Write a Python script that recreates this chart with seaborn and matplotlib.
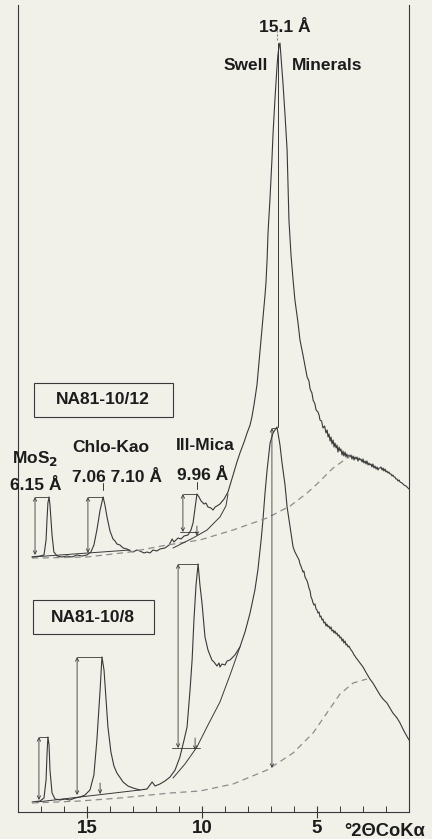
import matplotlib
matplotlib.use("Agg")
import matplotlib.pyplot as plt
import seaborn as sns
import pandas as pd
from matplotlib.patches import Rectangle

# °2θ CoKα (x) and relative intensity (y)
top_theta = [17.39, 17.04, 16.87, 16.78, 16.74, 16.70, 16.65, 16.61, 16.57, 16.52, 16.44, 16.30,
             16.09, 15.87, 15.65, 15.44, 15.22, 15.00, 14.83, 14.70, 14.57, 14.43, 14.30, 14.22,
             14.13, 14.00, 13.87, 13.78, 13.70, 13.57, 13.43, 13.26, 13.13, 13.00, 12.83, 12.70,
             12.52, 12.39, 12.26, 12.13, 11.96, 11.83, 11.61, 11.43, 11.30, 11.22, 11.13, 11.04,
             10.91, 10.78, 10.61, 10.48, 10.39, 10.30, 10.22, 10.13, 10.04, 9.91, 9.83, 9.74,
             9.61, 9.52, 9.43, 9.35, 9.22, 9.04, 8.87, 8.74, 8.65, 8.48, 8.35, 8.17, 8.04, 7.91,
             7.83, 7.74, 7.61, 7.48, 7.35, 7.26, 7.22, 7.17, 7.13, 7.04, 6.96, 6.91, 6.83, 6.74,
             6.70, 6.65, 6.61, 6.57, 6.48, 6.39, 6.30, 6.22, 6.13, 6.04, 5.96, 5.83, 5.74, 5.61,
             5.52, 5.43, 5.35, 5.30, 5.22, 5.17, 5.09, 5.04, 4.96, 4.91, 4.87, 4.80, 4.74, 4.67,
             4.61, 4.56, 4.52, 4.48, 4.43, 4.39, 4.35, 4.30, 4.26, 4.22, 4.17, 4.13, 4.09, 4.04,
             4.00, 3.96, 3.91, 3.87, 3.83, 3.78, 3.74, 3.70, 3.65, 3.61, 3.57, 3.52, 3.48, 3.43,
             3.39, 3.35, 3.30, 3.26, 3.22, 3.17, 3.13, 3.09, 3.04, 3.00, 2.96, 2.91, 2.87, 2.83,
             2.78, 2.74, 2.70, 2.65, 2.61, 2.57, 2.52, 2.48, 2.43, 2.39, 2.35, 2.30, 2.26, 2.22,
             2.17, 2.13, 2.09, 2.04, 2.00, 1.96, 1.91, 1.87, 1.83, 1.78, 1.74, 1.70, 1.65, 1.61,
             1.57, 1.52, 1.48, 1.43, 1.39, 1.30, 1.22, 1.13, 1.00]
top_int = [255, 256, 257, 272, 292, 309, 315, 307, 294, 277, 260, 256,
           255, 256, 255, 257, 256, 257, 260, 267, 282, 302, 315, 307,
           295, 281, 273, 271, 268, 267, 264, 263, 261, 260, 262, 261,
           259, 260, 259, 262, 261, 263, 264, 267, 273, 270, 272, 274,
           273, 276, 277, 282, 289, 304, 318, 315, 311, 308, 309, 305,
           304, 302, 305, 306, 308, 313, 320, 330, 337, 350, 359, 370, 379, 387,
           395, 407, 427, 460, 494, 517, 529, 552, 579, 615, 652, 679, 712, 745,
           757, 766, 769, 757, 729, 697, 662, 592, 557, 532, 512, 490, 472, 457,
           446, 435, 431, 423, 419, 412, 408, 402, 400, 397, 392, 391, 384, 386,
           379, 382, 375, 378, 371, 375, 368, 372, 365, 369, 364, 367, 360, 365,
           361, 363, 357, 361, 356, 360, 355, 358, 354, 357, 355, 357, 353, 356,
           352, 355, 353, 355, 351, 354, 352, 353, 350, 353, 349, 351, 348, 351,
           347, 349, 347, 348, 345, 348, 344, 346, 343, 345, 342, 344, 344, 345,
           342, 344, 341, 343, 340, 341, 339, 340, 338, 338, 336, 337, 335, 335,
           333, 333, 331, 332, 330, 329, 327, 326, 323]

bot_theta = [17.39, 17.04, 16.87, 16.78, 16.74, 16.70, 16.65, 16.61, 16.52, 16.39, 16.17, 15.96,
             15.74, 15.52, 15.30, 15.09, 14.87, 14.70, 14.57, 14.43, 14.35, 14.26, 14.17, 14.09,
             13.96, 13.83, 13.70, 13.43, 13.22, 13.00, 12.70, 12.39, 12.17, 12.04, 11.83, 11.61,
             11.39, 11.17, 10.96, 10.78, 10.65, 10.52, 10.43, 10.35, 10.26, 10.17, 10.09, 10.00,
             9.87, 9.74, 9.57, 9.48, 9.35, 9.26, 9.22, 9.13, 9.00, 8.91, 8.78, 8.57, 8.35, 8.13,
             7.91, 7.70, 7.57, 7.43, 7.35, 7.26, 7.17, 7.04, 6.91, 6.83, 6.74, 6.61, 6.52, 6.39,
             6.30, 6.17, 6.04, 5.96, 5.87, 5.78, 5.74, 5.70, 5.61, 5.57, 5.52, 5.43, 5.39, 5.35,
             5.30, 5.26, 5.22, 5.17, 5.13, 5.09, 5.04, 5.00, 4.96, 4.91, 4.87, 4.83, 4.78, 4.74,
             4.70, 4.65, 4.61, 4.57, 4.52, 4.48, 4.43, 4.39, 4.35, 4.30, 4.26, 4.22, 4.17, 4.13,
             4.09, 4.04, 4.00, 3.96, 3.91, 3.87, 3.83, 3.78, 3.74, 3.70, 3.65, 3.61, 3.57, 3.52,
             3.48, 3.43, 3.39, 3.35, 3.30, 3.26, 3.13, 3.00, 2.83, 2.70, 2.57, 2.39, 2.26, 2.13,
             1.96, 1.83, 1.70, 1.52, 1.39, 1.22, 1.00]
bot_int = [10, 11, 14, 32, 57, 75, 67, 42, 19, 13, 12, 13,
           12, 14, 15, 17, 22, 37, 72, 122, 155, 142, 112, 85,
           60, 46, 39, 30, 26, 24, 22, 23, 30, 26, 28, 31,
           35, 42, 55, 72, 85, 122, 152, 192, 227, 248, 227, 209,
           175, 162, 152, 150, 146, 149, 145, 148, 147, 151, 152, 157, 165, 180,
           199, 222, 242, 272, 292, 319, 342, 369, 379, 382, 385, 367, 349, 327,
           305, 285, 265, 260, 256, 252, 248, 246, 240, 241, 235, 231, 228, 224,
           221, 215, 213, 209, 207, 208, 203, 202, 199, 200, 195, 196, 192, 193,
           189, 190, 186, 188, 185, 186, 183, 185, 181, 182, 179, 181, 178, 179,
           176, 177, 174, 175, 171, 173, 169, 171, 167, 168, 165, 166, 164, 162,
           161, 159, 157, 156, 154, 153, 149, 145, 138, 133, 129, 122, 117, 113,
           109, 104, 99, 94, 89, 81, 72]

# dashed background curves
top_bg_theta = [17.39, 17.04, 15.00, 13.13, 11.52, 10.09, 8.65, 7.17, 6.17, 5.43, 5.00, 4.30, 3.57]
top_bg_int = [254, 254, 255, 260, 267, 272, 282, 294, 306, 319, 328, 344, 356]
bot_bg_theta = [17.39, 15.30, 13.57, 11.39, 10.09, 8.65, 7.17, 6.04, 5.17, 4.57, 4.00, 3.43, 2.83]
bot_bg_int = [9, 11, 14, 19, 21, 28, 42, 59, 79, 99, 118, 129, 133]

# solid tangent / background lines under the peaks
top_tan_theta = [17.39, 13.13]
top_tan_int = [255, 262]
bot_tan_theta = [17.17, 12.70]
bot_tan_int = [10, 22]
top_mica_bg_theta = [11.26, 10.39, 9.78, 9.22, 8.96, 8.87]
top_mica_bg_int = [264, 274, 282, 295, 306, 318]
bot_mica_bg_theta = [11.26, 10.74, 10.22, 9.74, 9.22, 8.78, 8.35]
bot_mica_bg_int = [34, 48, 65, 87, 110, 137, 165]

# peak-height measurements: arrow position, peak position, top and base intensity
top_arrow_x = [17.26, 14.96, 10.83]
top_peak_x = [16.65, 14.30, 10.22]
top_peak_top = [315, 315, 318]
top_peak_base = [257, 259, 280]
bot_arrow_x = [17.09, 15.43, 11.04, 6.96]
bot_peak_x = [16.70, 14.35, 10.17, 6.74]
bot_peak_top = [75, 155, 248, 384]
bot_peak_base = [12, 17, 64, 44]

swell_theta = 6.70
swell_top = 769

LINE = "#383838"
DASH = "#8c8c8c"
TXT = "#1c1c1c"
BG = "#f1f1ea"

sns.set_style("ticks")
plt.rcParams["font.family"] = ["Liberation Sans", "DejaVu Sans"]
plt.rcParams["font.weight"] = "bold"
plt.rcParams["mathtext.default"] = "bf"

fig = plt.figure(figsize=(4.32, 8.39), dpi=100, facecolor=BG)
ax = fig.add_axes([18 / 432, 27 / 839, 391 / 432, 807 / 839])
ax.set_facecolor(BG)

top = pd.DataFrame({"theta": top_theta, "counts": top_int})
bot = pd.DataFrame({"theta": bot_theta, "counts": bot_int})
for df in (top, bot):
    sns.lineplot(data=df, x="theta", y="counts", ax=ax, sort=False, estimator=None,
                 color=LINE, lw=0.8)

for xs, ys in [(top_bg_theta, top_bg_int), (bot_bg_theta, bot_bg_int)]:
    sns.lineplot(x=xs, y=ys, ax=ax, sort=False, estimator=None, color=DASH, lw=0.9,
                 linestyle=(0, (5, 3.5)))

for xs, ys in [(top_tan_theta, top_tan_int), (bot_tan_theta, bot_tan_int),
               (top_mica_bg_theta, top_mica_bg_int), (bot_mica_bg_theta, bot_mica_bg_int)]:
    sns.lineplot(x=xs, y=ys, ax=ax, sort=False, estimator=None, color=LINE, lw=0.7)

arrow_kw = dict(arrowstyle="<->", lw=0.6, color=LINE, mutation_scale=6, shrinkA=0, shrinkB=0)
down_kw = dict(arrowstyle="->", lw=0.6, color=LINE, mutation_scale=6, shrinkA=0, shrinkB=0)


def measure(xa, xp, hi, lo):
    ax.annotate("", xy=(xa, lo), xytext=(xa, hi), arrowprops=arrow_kw)
    ax.plot([xa, xp], [hi, hi], color=LINE, lw=0.6)


for xa, xp, hi, lo in zip(top_arrow_x, top_peak_x, top_peak_top, top_peak_base):
    measure(xa, xp, hi, lo)
for xa, xp, hi, lo in zip(bot_arrow_x, bot_peak_x, bot_peak_top, bot_peak_base):
    measure(xa, xp, hi, lo)

# base lines and small arrows under the mica / kaolinite peaks
ax.plot([top_arrow_x[2] + 0.13, top_peak_x[2]], [top_peak_base[2]] * 2, color=LINE, lw=0.6)
ax.annotate("", xy=(top_peak_x[2], top_peak_base[2] - 4), xytext=(top_peak_x[2], top_peak_base[2] + 6),
            arrowprops=down_kw)
ax.plot([bot_arrow_x[2] + 0.26, bot_peak_x[2] - 0.09], [bot_peak_base[2]] * 2, color=LINE, lw=0.6)
ax.annotate("", xy=(10.30, bot_peak_base[2] - 2), xytext=(10.30, bot_peak_base[2] + 10),
            arrowprops=down_kw)
ax.annotate("", xy=(14.43, bot_peak_base[1] + 1), xytext=(14.43, bot_peak_base[1] + 12),
            arrowprops=down_kw)

# line dropping from the swelling-mineral peak of the upper trace
ax.plot([swell_theta, swell_theta], [swell_top, bot_peak_top[3] + 1], color=LINE, lw=0.7)
ax.plot([swell_theta + 0.05] * 2, [772, 784], color=DASH, lw=0.8, linestyle=(0, (2, 1.5)))
ax.plot([top_peak_x[1]] * 2, [322, 329], color=LINE, lw=0.7)
ax.plot([top_peak_x[2]] * 2, [323, 330], color=LINE, lw=0.7)

# sample boxes
for (x0, x1, y0, y1, cx, cy, name) in [(17.30, 11.26, 395, 429, 14.30, 412, "NA81-10/12"),
                                       (17.35, 12.09, 178, 212, 14.74, 195, "NA81-10/8")]:
    ax.add_patch(Rectangle((x1, y0), x0 - x1, y1 - y0, fill=False, ec=LINE, lw=0.8))
    ax.text(cx, cy, name, ha="center", va="center", fontsize=12.5, fontweight="bold", color=TXT)

lab = dict(ha="center", va="center", fontsize=12.5, fontweight="bold", color=TXT)
ax.text(6.39, 785, "15.1 Å", **lab)
ax.text(8.09, 746, "Swell", **lab)
ax.text(4.57, 746, "Minerals", **lab)
ax.text(17.26, 354, "MoS$_2$", **lab)
ax.text(17.22, 327, "6.15 Å", **lab)
ax.text(13.96, 364, "Chlo-Kao", **lab)
ax.text(13.70, 334, "7.06 7.10 Å", **lab)
ax.text(9.87, 367, "Ill-Mica", **lab)
ax.text(9.96, 337, "9.96 Å", **lab)

ax.set_xlim(18, 1)
ax.set_ylim(0, 807)
ax.set_xticks([15, 10, 5])
ax.set_xticklabels(["15", "10", "5"])
ax.set_xticks(range(2, 18), minor=True)
ax.set_yticks([])
ax.set_xlabel("")
ax.set_ylabel("")
ax.tick_params(axis="x", which="major", direction="inout", length=8, width=0.8, pad=2,
               labelsize=13.5, colors=LINE, labelcolor=TXT)
ax.tick_params(axis="x", which="minor", direction="in", length=4, width=0.7, colors=LINE)
for lbl in ax.get_xticklabels():
    lbl.set_fontweight("bold")
ax.annotate("°2ΘCoKα", xy=(2.05, 0), xycoords=("data", "axes fraction"),
            xytext=(0, -14), textcoords="offset points", ha="center", va="center",
            fontsize=13.2, fontweight="bold", color=TXT, annotation_clip=False)

for side in ("left", "right", "bottom"):
    ax.spines[side].set_color(LINE)
    ax.spines[side].set_linewidth(0.8)
ax.spines["top"].set_visible(False)

fig.savefig("out.png", dpi=100, facecolor=BG)
